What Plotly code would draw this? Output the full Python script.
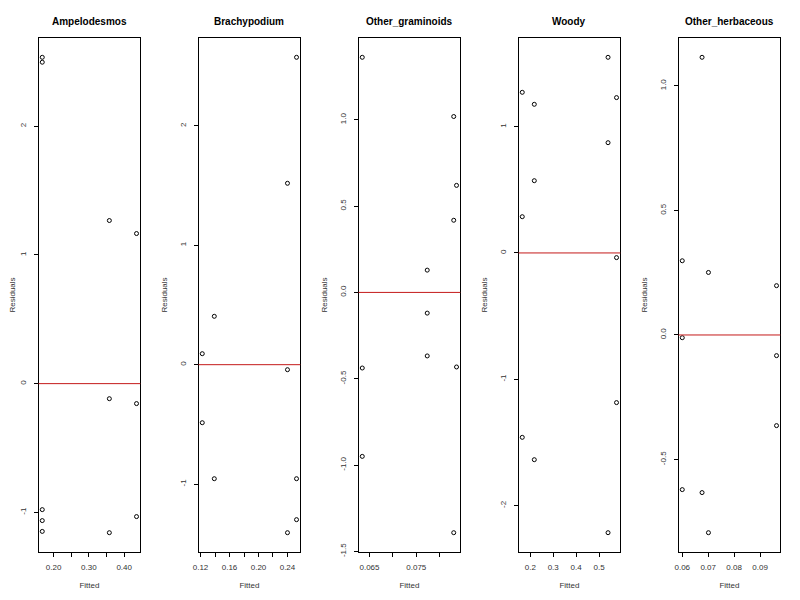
import plotly.graph_objects as go

# ---- data ----
panel_titles = ["Ampelodesmos", "Brachypodium", "Other_graminoids", "Woody", "Other_herbaceous"]

ampelo_fitted = [0.168, 0.168, 0.358, 0.435, 0.358, 0.435, 0.168, 0.168, 0.168, 0.358, 0.435]
ampelo_resid = [2.535, 2.497, 1.267, 1.166, -0.117, -0.155, -0.979, -1.064, -1.148, -1.158, -1.033]

brachy_fitted = [0.2525, 0.240, 0.139, 0.1224, 0.240, 0.1224, 0.139, 0.2525, 0.2525, 0.240]
brachy_resid = [2.574, 1.519, 0.405, 0.092, -0.042, -0.486, -0.955, -0.955, -1.298, -1.407]

gram_fitted = [0.06346, 0.0830, 0.0836, 0.0830, 0.07734, 0.07734, 0.07734, 0.06346, 0.0836, 0.06346, 0.0830]
gram_resid = [1.362, 1.019, 0.620, 0.418, 0.129, -0.120, -0.368, -0.438, -0.432, -0.950, -1.392]

woody_fitted = [0.539, 0.165, 0.576, 0.2175, 0.539, 0.2175, 0.165, 0.576, 0.576, 0.165, 0.2175, 0.539]
woody_resid = [1.549, 1.272, 1.230, 1.177, 0.873, 0.572, 0.287, -0.037, -1.185, -1.460, -1.637, -2.215]

herb_fitted = [0.06763, 0.0600, 0.0701, 0.09636, 0.0600, 0.09636, 0.09636, 0.0600, 0.06763, 0.0701]
herb_resid = [1.115, 0.298, 0.251, 0.198, -0.011, -0.083, -0.364, -0.621, -0.633, -0.794]

ampelo_xticks = [0.20, 0.25, 0.30, 0.35, 0.40]
ampelo_xlabels = ["0.20", "", "0.30", "", "0.40"]
brachy_xticks = [0.12, 0.14, 0.16, 0.18, 0.20, 0.22, 0.24]
brachy_xlabels = ["0.12", "", "0.16", "", "0.20", "", "0.24"]
gram_xticks = [0.065, 0.070, 0.075, 0.080]
gram_xlabels = ["0.065", "", "0.075", ""]
woody_xticks = [0.2, 0.3, 0.4, 0.5]
woody_xlabels = ["0.2", "0.3", "0.4", "0.5"]
herb_xticks = [0.06, 0.07, 0.08, 0.09]
herb_xlabels = ["0.06", "0.07", "0.08", "0.09"]

ampelo_yticks = [-1, 0, 1, 2]
ampelo_ylabels = ["-1", "0", "1", "2"]
brachy_yticks = [-1, 0, 1, 2]
brachy_ylabels = ["-1", "0", "1", "2"]
gram_yticks = [-1.5, -1.0, -0.5, 0.0, 0.5, 1.0]
gram_ylabels = ["-1.5", "-1.0", "-0.5", "0.0", "0.5", "1.0"]
woody_yticks = [-2, -1, 0, 1]
woody_ylabels = ["-2", "-1", "0", "1"]
herb_yticks = [-0.5, 0.0, 0.5, 1.0]
herb_ylabels = ["-0.5", "0.0", "0.5", "1.0"]

x_label = "Fitted"
y_label = "Residuals"
ref_line = 0

panels = [
    (ampelo_fitted, ampelo_resid, ampelo_xticks, ampelo_xlabels, ampelo_yticks, ampelo_ylabels),
    (brachy_fitted, brachy_resid, brachy_xticks, brachy_xlabels, brachy_yticks, brachy_ylabels),
    (gram_fitted, gram_resid, gram_xticks, gram_xlabels, gram_yticks, gram_ylabels),
    (woody_fitted, woody_resid, woody_xticks, woody_xlabels, woody_yticks, woody_ylabels),
    (herb_fitted, herb_resid, herb_xticks, herb_xlabels, herb_yticks, herb_ylabels),
]


def r_range(vals):
    lo, hi = min(vals), max(vals)
    pad = (hi - lo) * 0.04
    return [lo - pad, hi + pad]


# page body has an 8px margin: figure origin sits at window (8, 8)
OFF = 8
W, H = 800 - 2 * OFF, 600 - 2 * OFF
PW = 800 / 5
BOX_L, BOX_R = 38.5, 140.3
BOX_T, BOX_B = 38.3, 551.7
ydom = [1 - (BOX_B - OFF) / H, 1 - (BOX_T - OFF) / H]

FONT = "Liberation Sans, Arial, sans-serif"
fig = go.Figure()
annotations = []
shapes = []

for i, (fx, ry, xt, xl, yt, yl) in enumerate(panels):
    n = "" if i == 0 else str(i + 1)
    xa, ya = "x" + n, "y" + n
    fig.add_trace(go.Scatter(
        x=fx, y=ry, mode="markers", xaxis=xa, yaxis=ya, showlegend=False,
        marker=dict(symbol="circle-open", size=4, color="black", line=dict(width=1, color="black")),
        hoverinfo="x+y",
    ))
    xdom = [(PW * i + BOX_L - OFF) / W, (PW * i + BOX_R - OFF) / W]
    common = dict(showline=True, linecolor="black", linewidth=1, mirror=True,
                  ticks="outside", ticklen=4, tickcolor="black", tickwidth=1,
                  showgrid=False, zeroline=False, automargin=False,
                  tickfont=dict(family=FONT, size=8, color="#333"))
    fig.layout["xaxis" + n] = dict(
        domain=xdom, anchor=ya, range=r_range(fx), tickmode="array",
        tickvals=xt, ticktext=xl, ticklabelstandoff=4,
        title=dict(text=x_label, font=dict(family=FONT, size=8, color="#333"), standoff=11),
        **common)
    fig.layout["yaxis" + n] = dict(
        domain=ydom, anchor=xa, range=r_range(ry), tickmode="array",
        tickvals=yt, ticktext=yl, tickangle=-90, ticklabelstandoff=4,
        title=dict(text=y_label, font=dict(family=FONT, size=8, color="#333"),
                   standoff=7 if i == 0 else 10),
        **common)
    shapes.append(dict(type="line", xref=xa + " domain", yref=ya, x0=0, x1=1,
                       y0=ref_line, y1=ref_line, line=dict(color="#c41a1a", width=1)))
    annotations.append(dict(text="<b>" + panel_titles[i] + "</b>", xref="paper", yref="paper",
                            x=(xdom[0] + xdom[1]) / 2, y=1 - (21 - OFF) / H, showarrow=False,
                            xanchor="center", yanchor="middle",
                            font=dict(family=FONT, size=10, color="black")))

fig.update_layout(
    width=W, height=H, margin=dict(l=0, r=0, t=0, b=0),
    paper_bgcolor="white", plot_bgcolor="white",
    annotations=annotations, shapes=shapes,
)

fig.write_html("out.html")
